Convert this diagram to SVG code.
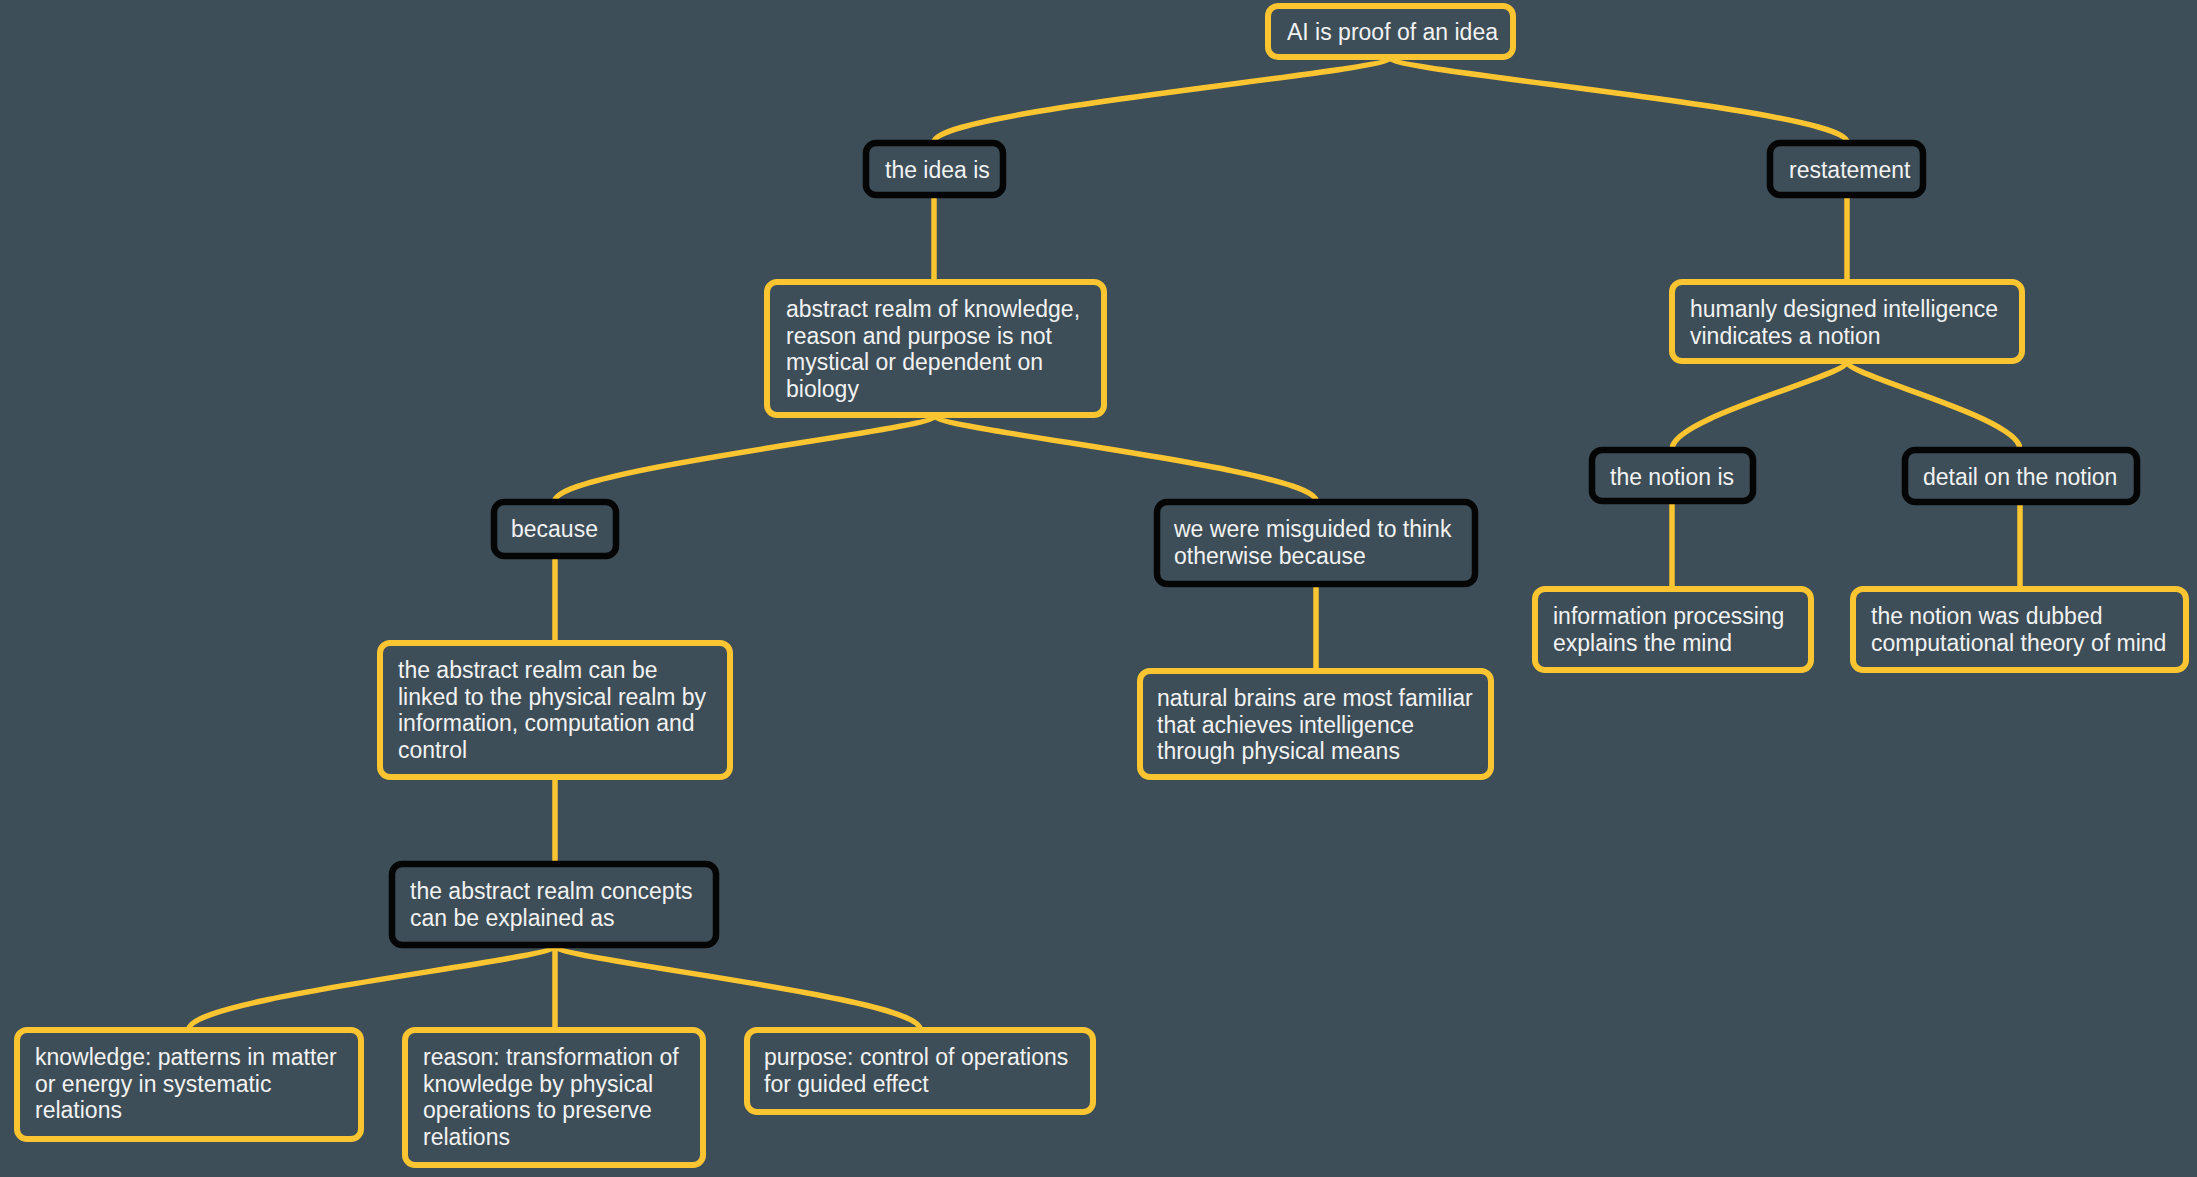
<svg xmlns="http://www.w3.org/2000/svg" width="2197" height="1177" viewBox="0 0 2197 1177">
<style>
.bg{fill:#3d4e58}
.y{fill:#3d4e58;stroke:#fbc532;stroke-width:6}
.k{fill:#3d4e58;stroke:#050505;stroke-width:6.5}
.c{fill:none;stroke:#fbc532;stroke-width:5.5;stroke-linecap:round}
text{font-family:"Liberation Sans",Arial,Helvetica,sans-serif;font-size:23px;fill:#f2f2f2}
</style>
<rect class="bg" x="0" y="0" width="2197" height="1177"/>
<g id="connectors">
<path class="c" d="M1390,58 C1390,72 934,110 934,142"/>
<path class="c" d="M1390,58 C1390,72 1847,110 1847,142"/>
<path class="c" d="M934,198 L934,281"/>
<path class="c" d="M1847,198 L1847,281"/>
<path class="c" d="M1847,362 C1847,376 1672,417 1672,449"/>
<path class="c" d="M1847,362 C1847,376 2020,417 2020,449"/>
<path class="c" d="M1672,504 L1672,588"/>
<path class="c" d="M2020,505 L2020,588"/>
<path class="c" d="M935,416 C935,430 555,469 555,501"/>
<path class="c" d="M935,416 C935,430 1316,469 1316,501"/>
<path class="c" d="M555,559 L555,642"/>
<path class="c" d="M1316,587 L1316,670"/>
<path class="c" d="M555,780 L555,863"/>
<path class="c" d="M555,946 C555,960 189,997 189,1029"/>
<path class="c" d="M555,946 L555,1029"/>
<path class="c" d="M555,946 C555,960 920,997 920,1029"/>
</g>
<g id="n1"><rect class="y" x="1268" y="6" width="245" height="51" rx="10"/><text x="1287" y="40">AI is proof of an idea</text></g>
<g id="n2"><rect class="k" x="866" y="143" width="137" height="52" rx="10"/><text x="885" y="178">the idea is</text></g>
<g id="n3"><rect class="y" x="767" y="282" width="337" height="133" rx="10"/><text x="786" y="317">abstract realm of knowledge,</text><text x="786" y="343.5">reason and purpose is not</text><text x="786" y="370">mystical or dependent on</text><text x="786" y="396.5">biology</text></g>
<g id="n4"><rect class="k" x="1770" y="143" width="153" height="52" rx="10"/><text x="1789" y="178">restatement</text></g>
<g id="n5"><rect class="y" x="1672" y="282" width="350" height="79" rx="10"/><text x="1690" y="317">humanly designed intelligence</text><text x="1690" y="343.5">vindicates a notion</text></g>
<g id="n6"><rect class="k" x="1592" y="450" width="161" height="51" rx="10"/><text x="1610" y="485">the notion is</text></g>
<g id="n7"><rect class="k" x="1905" y="450" width="232" height="52" rx="10"/><text x="1923" y="485">detail on the notion</text></g>
<g id="n8"><rect class="y" x="1535" y="589" width="276" height="81" rx="10"/><text x="1553" y="624">information processing</text><text x="1553" y="650.5">explains the mind</text></g>
<g id="n9"><rect class="y" x="1853" y="589" width="333" height="81" rx="10"/><text x="1871" y="624">the notion was dubbed</text><text x="1871" y="650.5">computational theory of mind</text></g>
<g id="n10"><rect class="k" x="494" y="502" width="122" height="54" rx="10"/><text x="511" y="537">because</text></g>
<g id="n11"><rect class="k" x="1157" y="502" width="318" height="82" rx="10"/><text x="1174" y="537">we were misguided to think</text><text x="1174" y="563.5">otherwise because</text></g>
<g id="n12"><rect class="y" x="380" y="643" width="350" height="134" rx="10"/><text x="398" y="678">the abstract realm can be</text><text x="398" y="704.5">linked to the physical realm by</text><text x="398" y="731">information, computation and</text><text x="398" y="757.5">control</text></g>
<g id="n13"><rect class="y" x="1140" y="671" width="351" height="106" rx="10"/><text x="1157" y="706">natural brains are most familiar</text><text x="1157" y="732.5">that achieves intelligence</text><text x="1157" y="759">through physical means</text></g>
<g id="n14"><rect class="k" x="392" y="864" width="324" height="81" rx="10"/><text x="410" y="899">the abstract realm concepts</text><text x="410" y="925.5">can be explained as</text></g>
<g id="n15"><rect class="y" x="17" y="1030" width="344" height="109" rx="10"/><text x="35" y="1065">knowledge: patterns in matter</text><text x="35" y="1091.5">or energy in systematic</text><text x="35" y="1118">relations</text></g>
<g id="n16"><rect class="y" x="405" y="1030" width="298" height="135" rx="10"/><text x="423" y="1065">reason: transformation of</text><text x="423" y="1091.5">knowledge by physical</text><text x="423" y="1118">operations to preserve</text><text x="423" y="1144.5">relations</text></g>
<g id="n17"><rect class="y" x="747" y="1030" width="346" height="82" rx="10"/><text x="764" y="1065">purpose: control of operations</text><text x="764" y="1091.5">for guided effect</text></g>
</svg>
